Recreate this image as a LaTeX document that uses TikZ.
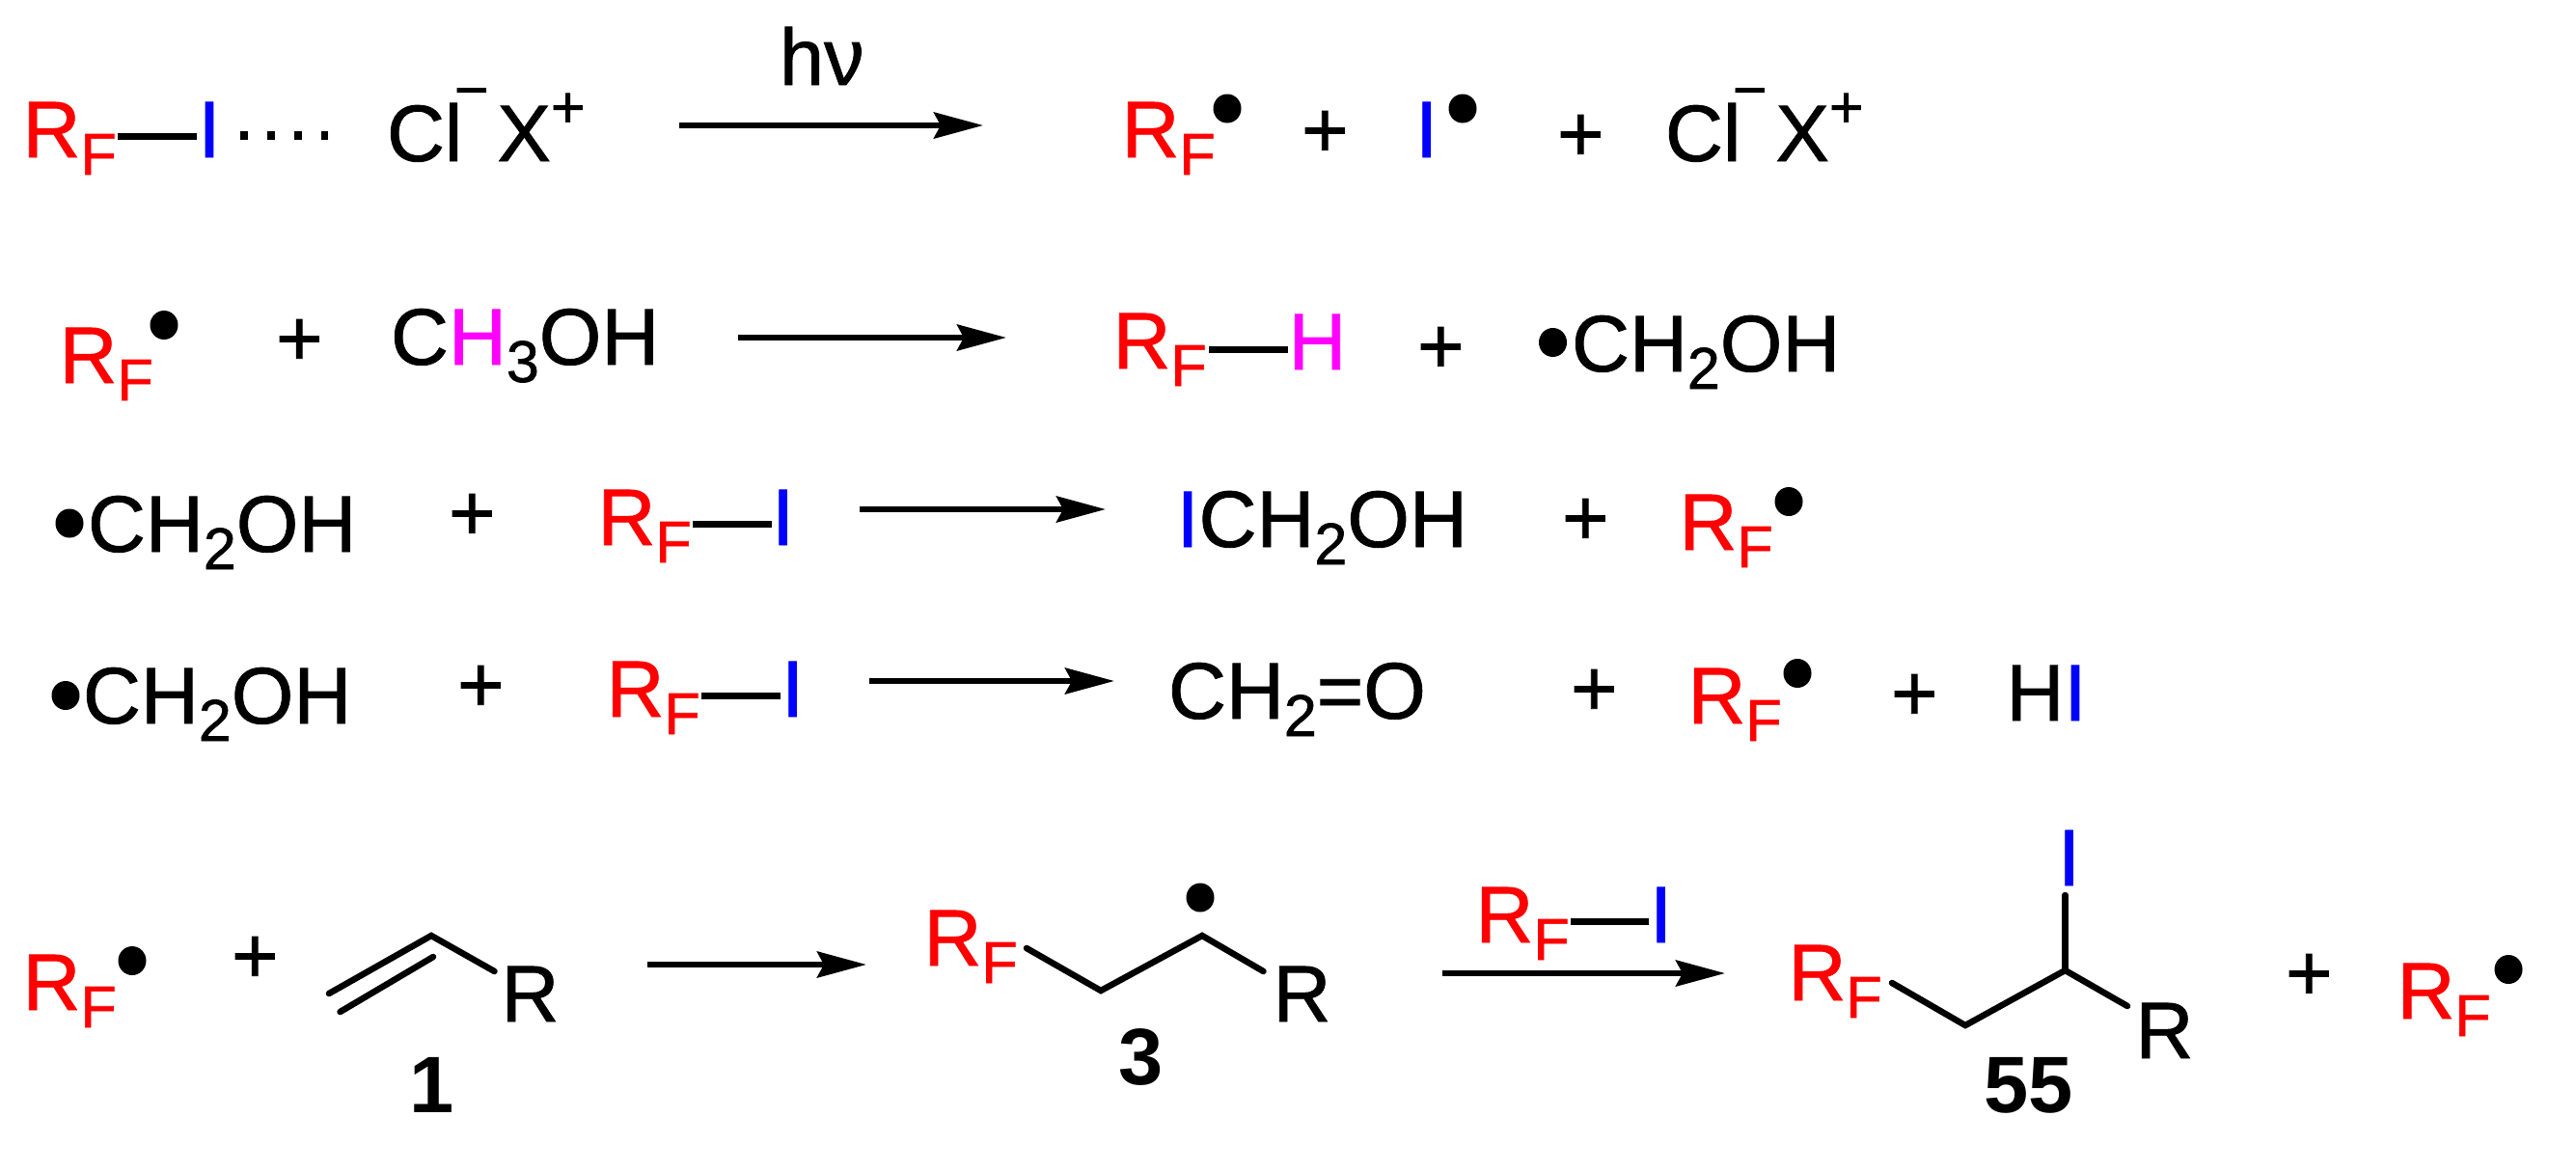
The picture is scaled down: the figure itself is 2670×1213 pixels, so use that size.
\documentclass[tikz,border=0pt]{standalone}
\usepackage{fontspec}
\setmainfont{Liberation Sans}[FakeBold=1]
\newfontfamily\cmpdfont{Liberation Sans Bold}
\usetikzlibrary{arrows.meta}
\definecolor{rfred}{RGB}{255,0,0}
\definecolor{iblue}{RGB}{0,0,255}
\definecolor{hmag}{RGB}{255,0,255}
\newcommand{\sbs}[1]{\raisebox{-18pt}{\fontsize{61}{61}\selectfont #1}}
\newcommand{\sps}[2]{\raisebox{#1}{\fontsize{61}{61}\selectfont #2}}
\newcommand{\RFtext}{R\sbs{F}}
\newcommand{\ClX}{Cl\kern-8.5pt\sps{53pt}{−}\kern9pt X\sps{35pt}{+}}
\tikzset{
  txt/.style={anchor=base west,inner sep=0pt,outer sep=0pt,font=\fontsize{83}{90}\selectfont},
  rftxt/.style={txt,text=rfred},
  itxt/.style={txt,text=iblue},
  cmpd/.style={txt,font=\fontsize{83}{90}\cmpdfont},
  radical/.style={ellipse,fill=black,inner sep=0pt,minimum width=29pt,minimum height=30pt},
  rxnarrow/.style={line width=6pt,-{Stealth[length=51pt,width=27pt,inset=7pt]}},
  bondline/.style={line width=7pt},
  chain/.style={line width=6.5pt,line join=miter,line cap=round},
}
\usetikzlibrary{shapes.geometric}
\begin{document}
\begin{tikzpicture}[x=1pt,y=-1pt]
\useasboundingbox (0,0) rectangle (2670,1213);
% --- row 1
\node[rftxt] (rf1) at (23.5,163) {\RFtext};
\node[itxt] (i1) at (205.5,163) {I};
\coordinate (b1a) at (122,141); \coordinate (b1b) at (204,141);
\draw[bondline] (b1a) -- (b1b);
\coordinate (d1a) at (249,140); \coordinate (d1b) at (340,140);
\draw[line width=9pt,dash pattern=on 8pt off 20pt] (d1a) -- (d1b);
\node[txt] (clx1) at (401,167) {\ClX};
\node[txt] (hv) at (808,88) {hν};
\coordinate (a1a) at (704,130); \coordinate (a1b) at (1019,130);
\draw[rxnarrow] (a1a) -- (a1b);
\node[rftxt] (rf2) at (1162.5,163) {\RFtext};
\node[radical] (r2) at (1272,112.5) {};
\node[txt] (p1) at (1349,163) {+};
\node[itxt] (i2) at (1467,163) {I};
\node[radical] (r3) at (1516,112.5) {};
\node[txt] (p2) at (1614,167) {+};
\node[txt] (clx2) at (1726,167) {\ClX};
% --- row 2
\node[rftxt] (rf3) at (61.5,397) {\RFtext};
\node[radical] (r4) at (170,337) {};
\node[txt] (p3) at (286,379) {+};
\node[txt] (meoh) at (405,378) {C{\color{hmag}H}\sbs{3}OH};
\coordinate (a2a) at (765,350); \coordinate (a2b) at (1043,350);
\draw[rxnarrow] (a2a) -- (a2b);
\node[rftxt] (rf4) at (1153.5,382) {\RFtext};
\coordinate (b2a) at (1253,362); \coordinate (b2b) at (1335,362);
\draw[bondline] (b2a) -- (b2b);
\node[txt,text=hmag] (h1) at (1335.5,383) {H};
\node[txt] (p4) at (1469,387) {+};
\node[radical] (r5) at (1609.5,355) {};
\node[txt] (ch2oh1) at (1629,385) {CH\sbs{2}OH};
% --- row 3
\node[radical] (r6) at (72,542.5) {};
\node[txt] (ch2oh2) at (91,572) {CH\sbs{2}OH};
\node[txt] (p5) at (465,560) {+};
\node[rftxt] (rf5) at (619.5,565) {\RFtext};
\node[itxt] (i3) at (800,565) {I};
\coordinate (b3a) at (718,543); \coordinate (b3b) at (800,543);
\draw[bondline] (b3a) -- (b3b);
\coordinate (a3a) at (891,528); \coordinate (a3b) at (1146,528);
\draw[rxnarrow] (a3a) -- (a3b);
\node[txt] (ich2oh) at (1219.5,567) {{\color{iblue}I}CH\sbs{2}OH};
\node[txt] (p6) at (1619,565) {+};
\node[rftxt] (rf6) at (1740.5,570) {\RFtext};
\node[radical] (r7) at (1854,520) {};
% --- row 4
\node[radical] (r8) at (68,721) {};
\node[txt] (ch2oh3) at (86,750) {CH\sbs{2}OH};
\node[txt] (p7) at (474,738) {+};
\node[rftxt] (rf7) at (628.5,743) {\RFtext};
\node[itxt] (i4) at (810,743) {I};
\coordinate (b4a) at (727,721); \coordinate (b4b) at (809,721);
\draw[bondline] (b4a) -- (b4b);
\coordinate (a4a) at (901,706); \coordinate (a4b) at (1155,706);
\draw[rxnarrow] (a4a) -- (a4b);
\node[txt] (ch2o) at (1211,745) {CH\sbs{2}=O};
\node[txt] (p8) at (1628,742) {+};
\node[rftxt] (rf8) at (1749.5,750) {\RFtext};
\node[radical] (r9) at (1863,698) {};
\node[txt] (p9) at (1960,747) {+};
\node[txt] (hi) at (2079.5,747) {H{\color{iblue}I}};
% --- row 5
\node[rftxt] (rf9) at (23.5,1047) {\RFtext};
\node[radical] (r10) at (137,996) {};
\node[txt] (p10) at (240,1019) {+};
\coordinate (e1) at (341,1030); \coordinate (e2) at (447,970); \coordinate (e3) at (512.5,1007);
\coordinate (e4) at (449,992); \coordinate (e5) at (352.5,1049);
\draw[chain] (e1) -- (e2) -- (e3);
\draw[chain] (e4) -- (e5);
\node[txt] (r1) at (519.5,1059) {R};
\node[cmpd] (c1) at (424,1153) {1};
\coordinate (a5a) at (671,1000); \coordinate (a5b) at (898,1000);
\draw[rxnarrow] (a5a) -- (a5b);
\node[rftxt] (rf10) at (957.5,1001) {\RFtext};
\coordinate (f1) at (1064,983); \coordinate (f2) at (1141,1027); \coordinate (f3) at (1246,970); \coordinate (f4) at (1309.5,1007);
\draw[chain] (f1) -- (f2) -- (f3) -- (f4);
\node[radical] (r11) at (1244,930.5) {};
\node[txt] (r12) at (1319.5,1059) {R};
\node[cmpd] (c3) at (1159,1124) {3};
\node[rftxt] (rf11) at (1529.5,977) {\RFtext};
\coordinate (b5a) at (1628,955); \coordinate (b5b) at (1709,955);
\draw[bondline] (b5a) -- (b5b);
\node[itxt] (i5) at (1710,977) {I};
\coordinate (a6a) at (1495,1009); \coordinate (a6b) at (1788,1009);
\draw[rxnarrow] (a6a) -- (a6b);
\node[rftxt] (rf12) at (1853.5,1037) {\RFtext};
\coordinate (g1) at (1961,1019); \coordinate (g2) at (2037,1063); \coordinate (g3) at (2140.5,1006); \coordinate (g4) at (2205,1043); \coordinate (g5) at (2140.5,928);
\draw[chain] (g1) -- (g2) -- (g3) -- (g4);
\draw[chain] (g3) -- (g5);
\node[itxt] (i6) at (2133,918) {I};
\node[txt] (r13) at (2213.5,1097) {R};
\node[cmpd] (c55) at (2056,1153) {55};
\node[txt] (p11) at (2369,1037) {+};
\node[rftxt] (rf13) at (2484.5,1056) {\RFtext};
\node[radical] (r14) at (2600,1005) {};
\end{tikzpicture}
\end{document}
